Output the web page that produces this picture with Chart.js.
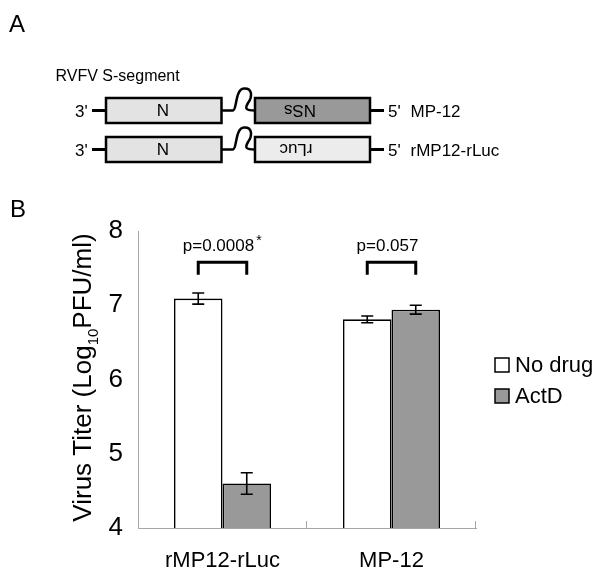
<!DOCTYPE html>
<html><head><meta charset="utf-8">
<script src="https://cdn.jsdelivr.net/npm/chart.js@4"></script>
<style>
html,body{margin:0;padding:0;background:#fff;}
#wrap{position:relative;width:600px;height:577px;overflow:hidden;background:#fff;}
#c{position:absolute;left:0;top:0;}
#diag{position:absolute;left:0;top:0;}
#diag text{font-family:"Liberation Sans",Arial,Helvetica,sans-serif;fill:#000;}
</style></head><body>
<div id="wrap">
<canvas id="c" width="600" height="577"></canvas>
<svg id="diag" width="600" height="225" viewBox="0 0 600 225">
  <text x="9" y="32" font-size="24">A</text>
  <text x="10" y="217" font-size="24">B</text>
  <text x="55.5" y="81" font-size="16">RVFV S-segment</text>
  <g id="row1">
    <text x="75" y="117" font-size="17">3'</text>
    <line x1="92" y1="110.5" x2="106" y2="110.5" stroke="#000" stroke-width="3"/>
    <rect x="106" y="98" width="115.5" height="25" fill="#e3e3e3" stroke="#000" stroke-width="2.5"/>
    <text x="163" y="110.5" font-size="17" text-anchor="middle" dominant-baseline="central">N</text>
    <path d="M221.5,110.5 L233,110.5 C237,110 235,89 244,88.5 C252,88 253,96 248,103 C244.5,109 246,110.5 255,110.5" fill="none" stroke="#000" stroke-width="2.5"/>
    <rect x="255" y="98" width="115" height="25" fill="#999999" stroke="#000" stroke-width="2.5"/>
    <text x="0" y="0" font-size="17" text-anchor="middle" dominant-baseline="central" transform="translate(300,110.5) rotate(180)">NSs</text>
    <line x1="370" y1="110.5" x2="384" y2="110.5" stroke="#000" stroke-width="3"/>
    <text x="388" y="117" font-size="17">5'</text>
    <text x="410.5" y="117" font-size="17">MP-12</text>
  </g>
  <g id="row2">
    <text x="75" y="156" font-size="17">3'</text>
    <line x1="92" y1="149.5" x2="106" y2="149.5" stroke="#000" stroke-width="3"/>
    <rect x="106" y="137" width="115.5" height="25" fill="#e3e3e3" stroke="#000" stroke-width="2.5"/>
    <text x="163" y="149.5" font-size="17" text-anchor="middle" dominant-baseline="central">N</text>
    <path d="M221.5,149.5 L233,149.5 C237,149 235,128 244,127.5 C252,127 253,135 248,142 C244.5,148 246,149.5 255,149.5" fill="none" stroke="#000" stroke-width="2.5"/>
    <rect x="255" y="137" width="115" height="25" fill="#ececec" stroke="#000" stroke-width="2.5"/>
    <text x="0" y="0" font-size="17" text-anchor="middle" dominant-baseline="central" transform="translate(296,149.5) rotate(180)">rLuc</text>
    <line x1="370" y1="149.5" x2="384" y2="149.5" stroke="#000" stroke-width="3"/>
    <text x="388" y="156" font-size="17">5'</text>
    <text x="410.5" y="156" font-size="17">rMP12-rLuc</text>
  </g>
</svg>
</div>
<script>
// ---- data ----
const categories = ['rMP12-rLuc', 'MP-12'];
const seriesNames = ['No drug', 'ActD'];
const noDrug = [7.09, 6.81];
const actD = [4.60, 6.94];
const noDrugErr = [0.075, 0.045];
const actDErr = [0.145, 0.06];
const pLabels = ['p=0.0008', 'p=0.057'];
const pStars = ['*', ''];
const bracketTop = [7.58, 7.58];
const bracketBottom = [7.41, 7.41];
const yMin = 4, yMax = 8, yStep = 1;
const yTitleMain = 'Virus Titer (Log';
const yTitleSub = '10';
const yTitleEnd = 'PFU/ml)';

const FONT = '"Liberation Sans", Arial, Helvetica, sans-serif';
const seriesColors = ['#ffffff', '#999999'];
const errs = [noDrugErr, actDErr];
const vals = [noDrug, actD];

const overlay = {
  id: 'overlay',
  afterDraw(chart) {
    const ctx = chart.ctx, xs = chart.scales.x, ys = chart.scales.y;
    const area = chart.chartArea;
    ctx.save();
    // inward ticks on x axis at category boundaries
    ctx.strokeStyle = '#a6a6a6'; ctx.lineWidth = 1;
    for (let i = 1; i <= categories.length; i++) {
      const px = Math.round(xs.getPixelForValue(i - 0.5)) - 0.5;
      ctx.beginPath(); ctx.moveTo(px, area.bottom); ctx.lineTo(px, area.bottom - 7); ctx.stroke();
    }
    // error bars
    ctx.strokeStyle = '#000'; ctx.lineWidth = 1.6;
    for (let d = 0; d < vals.length; d++) {
      const meta = chart.getDatasetMeta(d);
      meta.data.forEach((bar, j) => {
        const cx = bar.x;
        const t = ys.getPixelForValue(vals[d][j] + errs[d][j]);
        const b = ys.getPixelForValue(vals[d][j] - errs[d][j]);
        ctx.beginPath();
        ctx.moveTo(cx, t); ctx.lineTo(cx, b);
        ctx.moveTo(cx - 6, t); ctx.lineTo(cx + 6, t);
        ctx.moveTo(cx - 6, b); ctx.lineTo(cx + 6, b);
        ctx.stroke();
      });
    }
    // brackets + p values
    const m0 = chart.getDatasetMeta(0), m1 = chart.getDatasetMeta(1);
    for (let j = 0; j < categories.length; j++) {
      const xa = m0.data[j].x, xb = m1.data[j].x;
      const yt = ys.getPixelForValue(bracketTop[j]);
      const yb = ys.getPixelForValue(bracketBottom[j]);
      ctx.lineWidth = 3; ctx.lineJoin = 'miter'; ctx.lineCap = 'butt';
      ctx.beginPath();
      ctx.moveTo(xa, yb); ctx.lineTo(xa, yt); ctx.lineTo(xb, yt); ctx.lineTo(xb, yb);
      ctx.stroke();
      ctx.fillStyle = '#000';
      ctx.font = '17px ' + FONT;
      ctx.textBaseline = 'alphabetic'; ctx.textAlign = 'left';
      const w = ctx.measureText(pLabels[j]).width;
      const cx = (xa + xb) / 2 - 4;
      const tx = cx - w / 2;
      ctx.fillText(pLabels[j], tx, yt - 11);
      if (pStars[j]) {
        ctx.font = '14px ' + FONT;
        ctx.fillText(pStars[j], tx + w + 2, yt - 17);
      }
    }
    // y title with subscript
    ctx.save();
    ctx.translate(90.7, 377.5);
    ctx.rotate(-Math.PI / 2);
    ctx.fillStyle = '#000';
    ctx.textBaseline = 'alphabetic'; ctx.textAlign = 'left';
    const fMain = '26px ' + FONT, fSub = '15px ' + FONT;
    ctx.font = fMain; const w1 = ctx.measureText(yTitleMain).width; const w3 = ctx.measureText(yTitleEnd).width;
    ctx.font = fSub; const w2 = ctx.measureText(yTitleSub).width;
    let sx = -(w1 + w2 + w3) / 2;
    ctx.font = fMain; ctx.fillText(yTitleMain, sx, 0); sx += w1;
    ctx.font = fSub; ctx.fillText(yTitleSub, sx, 7.5); sx += w2;
    ctx.font = fMain; ctx.fillText(yTitleEnd, sx, 0);
    ctx.restore();
    // legend
    const ly = [365, 396];
    ctx.font = '22px ' + FONT;
    ctx.textBaseline = 'middle'; ctx.textAlign = 'left';
    chart.data.datasets.forEach((ds, i) => {
      ctx.fillStyle = ds.backgroundColor;
      ctx.fillRect(495, ly[i] - 7, 14, 14);
      ctx.strokeStyle = '#000'; ctx.lineWidth = 1.5;
      ctx.strokeRect(495, ly[i] - 7, 14, 14);
      ctx.fillStyle = '#000';
      ctx.fillText(ds.label, 515, ly[i] + 1);
    });
    ctx.restore();
  }
};

new Chart(document.getElementById('c'), {
  type: 'bar',
  data: {
    labels: categories,
    datasets: [
      { label: seriesNames[0], data: noDrug, backgroundColor: seriesColors[0], borderColor: '#000', borderWidth: 1.6 },
      { label: seriesNames[1], data: actD, backgroundColor: seriesColors[1], borderColor: '#000', borderWidth: 1.6 }
    ]
  },
  options: {
    responsive: false,
    animation: false,
    devicePixelRatio: 1,
    datasets: { bar: { categoryPercentage: 0.574, barPercentage: 1.0 } },
    layout: { padding: { left: 0, right: 124, top: 231, bottom: 0 } },
    plugins: { legend: { display: false }, tooltip: { enabled: false }, title: { display: false } },
    scales: {
      x: {
        grid: { display: true, drawOnChartArea: false, drawTicks: false },
        border: { display: true, color: '#a6a6a6', width: 1 },
        ticks: { color: '#000', font: { size: 22, family: FONT }, padding: 20, maxRotation: 0 },
        afterFit(s) { s.height = 49; }
      },
      y: {
        min: yMin, max: yMax,
        grid: { display: true, drawOnChartArea: false, drawTicks: false },
        border: { display: true, color: '#a6a6a6', width: 1 },
        ticks: { stepSize: yStep, color: '#000', font: { size: 26, family: FONT }, padding: 15 },
        afterFit(s) { s.width = 138; }
      }
    }
  },
  plugins: [overlay]
});
</script>
</body></html>
